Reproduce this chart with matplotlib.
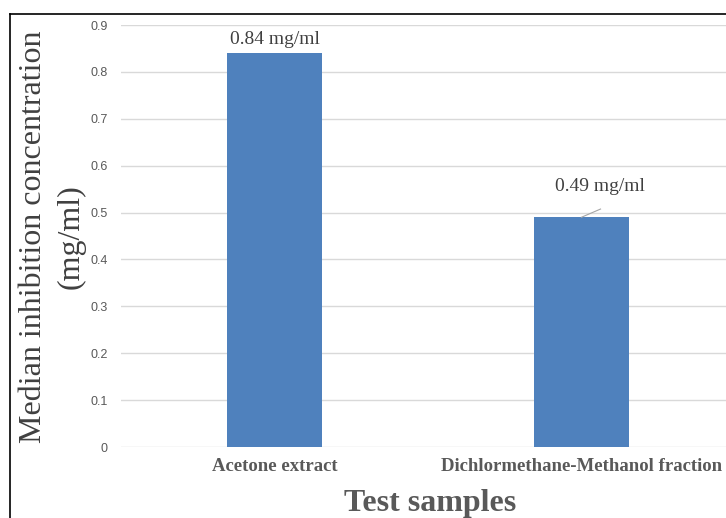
import matplotlib.pyplot as plt
from matplotlib.lines import Line2D

categories = ["Acetone extract", "Dichlormethane-Methanol fraction"]
values = [0.84, 0.49]
labels = ["0.84 mg/ml", "0.49 mg/ml"]
yticks = [0, 0.1, 0.2, 0.3, 0.4, 0.5, 0.6, 0.7, 0.8, 0.9]

W, H = 726, 518
fig = plt.figure(figsize=(W / 100, H / 100), dpi=100)
ax = fig.add_axes([121 / W, 1 - 447 / H, 614 / W, 422 / H])

x = list(range(len(categories)))
ax.bar(x, values, width=0.31, color="#4F81BD", zorder=3)
ax.set_xlim(-0.5, 1.5)
ax.set_ylim(0, 0.9)
ax.set_yticks(yticks)
ax.set_yticklabels([f"{v:g}" for v in yticks], family="Liberation Sans",
                   fontsize=9, color="#595959")
ax.set_xticks(x)
ax.set_xticklabels(categories, family="Liberation Serif", fontweight="bold",
                   fontsize=13.5, color="#595959")
ax.tick_params(axis="y", length=0, pad=9.5)
ax.tick_params(axis="x", length=0, pad=8)
ax.grid(axis="y", color="#D9D9D9", linewidth=1, zorder=0)
for s in ax.spines.values():
    s.set_visible(False)

# data labels
ax.annotate(labels[0], (0, values[0]), xytext=(0, 4), textcoords="offset points",
            ha="center", va="bottom", family="Liberation Serif", fontsize=14,
            color="#404040")
ax.text(1.059, 0.5565, labels[1], ha="center", va="center",
        family="Liberation Serif", fontsize=14, color="#404040")
ax.plot([1.0, 1.062], [values[1], 0.5075], color="#A6A6A6", lw=0.8, zorder=4)

fig.text(34 / W, 1 - 237 / H, "Median inhibition concentration", rotation=90,
         ha="center", va="center", family="Liberation Serif", fontsize=23,
         color="#404040")
fig.text(71 / W, 1 - 237 / H, "(mg/ml)", rotation=90,
         ha="center", va="center", family="Liberation Serif", fontsize=23,
         color="#404040")
fig.text(430 / W, 1 - 503 / H, "Test samples", ha="center", va="center",
         family="Liberation Serif", fontweight="bold", fontsize=23,
         color="#595959")

# outer frame (cropped)
fig.add_artist(Line2D([10 / W, 1], [1 - 14 / H, 1 - 14 / H], color="black",
                      lw=1.2, transform=fig.transFigure))
fig.add_artist(Line2D([10 / W, 10 / W], [0, 1 - 14 / H], color="black",
                      lw=1.2, transform=fig.transFigure))

fig.savefig("out.png", dpi=100)
